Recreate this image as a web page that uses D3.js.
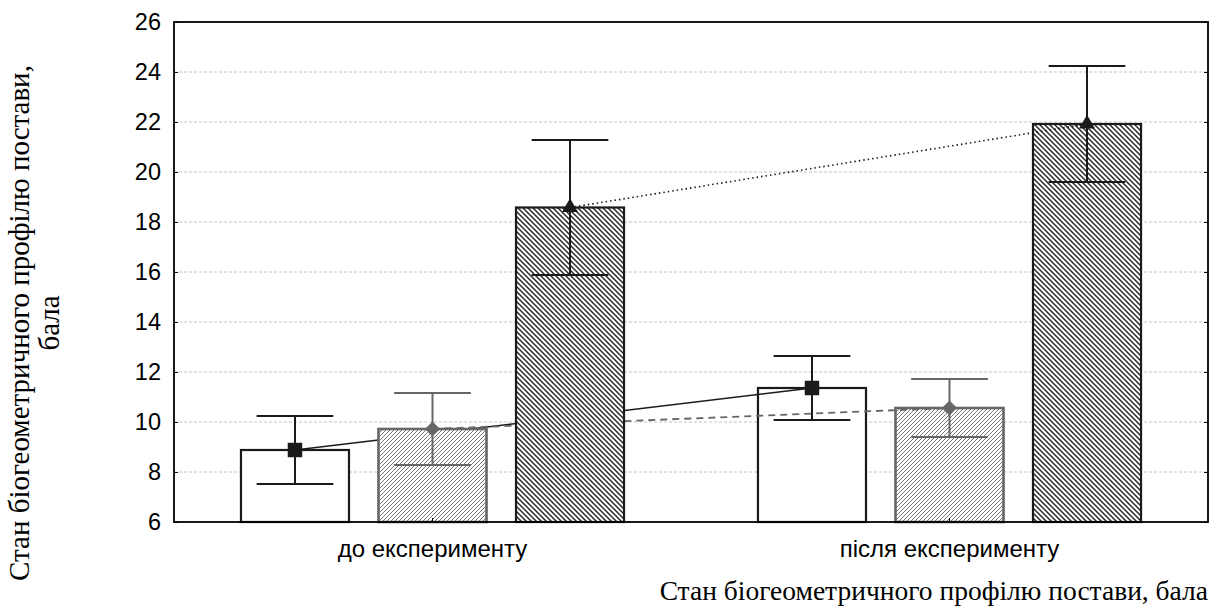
<!DOCTYPE html>
<html>
<head>
<meta charset="utf-8">
<script src="https://cdn.jsdelivr.net/npm/d3@7"></script>
<style>
  body { margin: 0; background: #fff; }
  svg { display: block; }
</style>
</head>
<body>
<div id="chart"></div>
<script>
  // groups on the x axis
  var groups = ["до експерименту", "після експерименту"];
  var seriesNames = ["s1", "s2", "s3"];

  // means per series (one value per group)
  var means1 = [8.88, 11.36];
  var means2 = [9.72, 10.56];
  var means3 = [18.58, 21.92];

  // half-width of the error bars
  var errs1 = [1.36, 1.28];
  var errs2 = [1.44, 1.16];
  var errs3 = [2.70, 2.32];

  var yTicks = [6, 8, 10, 12, 14, 16, 18, 20, 22, 24, 26];

  var width = 1216, height = 607;
  var margin = {top: 22, right: 8, bottom: 85, left: 174};

  var svg = d3.select("#chart").append("svg")
    .attr("width", width)
    .attr("height", height);

  var defs = svg.append("defs");

  // "////" grey hatch
  defs.append("pattern")
    .attr("id", "hatch2")
    .attr("patternUnits", "userSpaceOnUse")
    .attr("width", 4).attr("height", 4)
    .call(function(p){
      p.append("rect").attr("width", 4).attr("height", 4).attr("fill", "#fff");
      p.append("path")
        .attr("d", "M-1,1 l2,-2 M0,4 l4,-4 M3,5 l2,-2")
        .attr("stroke", "#777").attr("stroke-width", 1);
    });

  // "\\\\" black hatch
  defs.append("pattern")
    .attr("id", "hatch3")
    .attr("patternUnits", "userSpaceOnUse")
    .attr("width", 5).attr("height", 5)
    .call(function(p){
      p.append("rect").attr("width", 5).attr("height", 5).attr("fill", "#fff");
      p.append("path")
        .attr("d", "M-1,4 l2,2 M0,0 l5,5 M4,-1 l2,2")
        .attr("stroke", "#2a2a2a").attr("stroke-width", 1.5);
    });

  var x0 = d3.scaleBand()
    .domain(groups)
    .range([margin.left, width - margin.right]);

  var x1 = d3.scaleBand()
    .domain(seriesNames)
    .range([0, x0.bandwidth()])
    .paddingInner(0.2145)
    .paddingOuter(0.487);

  var y = d3.scaleLinear()
    .domain([6, 26])
    .range([height - margin.bottom, margin.top]);

  var x0px = margin.left, x1px = width - margin.right;
  var y0px = y(6), y1px = y(26);

  // grid lines
  svg.append("g")
    .selectAll("line")
    .data(yTicks.slice(1, -1))
    .enter().append("line")
      .attr("x1", x0px).attr("x2", x1px)
      .attr("y1", function(d){ return y(d); })
      .attr("y2", function(d){ return y(d); })
      .attr("stroke", "#c4c4c4")
      .attr("stroke-width", 1)
      .attr("stroke-dasharray", "3,2");

  var series = [
    {key: "s1", means: means1, errs: errs1, fill: "#fff", stroke: "#1a1a1a",
     sw: 2.2, line: "none", lineColor: "#1a1a1a", lineW: 1.6, marker: "square"},
    {key: "s2", means: means2, errs: errs2, fill: "url(#hatch2)", stroke: "#666",
     sw: 2.6, line: "7,5", lineColor: "#666", lineW: 1.8, marker: "diamond"},
    {key: "s3", means: means3, errs: errs3, fill: "url(#hatch3)", stroke: "#1a1a1a",
     sw: 2.2, line: "1.5,3", lineColor: "#1a1a1a", lineW: 1.6, marker: "triangle"}
  ];

  var symbols = {
    square: d3.symbol().type(d3.symbolSquare).size(210),
    diamond: d3.symbol().type(d3.symbolSquare).size(115),
    triangle: d3.symbol().type(d3.symbolTriangle).size(110)
  };

  function cx(s, i){ return x0(groups[i]) + x1(s.key) + x1.bandwidth() / 2; }

  // each series: bars, error bars, connecting line, markers
  series.forEach(function(s){
    var g = svg.append("g");
    var idx = groups.map(function(d, i){ return i; });

    g.selectAll("rect")
      .data(idx)
      .enter().append("rect")
        .attr("x", function(i){ return x0(groups[i]) + x1(s.key); })
        .attr("y", function(i){ return y(s.means[i]); })
        .attr("width", x1.bandwidth())
        .attr("height", function(i){ return y(6) - y(s.means[i]); })
        .attr("fill", s.fill)
        .attr("stroke", s.stroke)
        .attr("stroke-width", s.sw);

    var capW = x1.bandwidth() * 0.71;
    var eb = g.selectAll(".err")
      .data(idx)
      .enter().append("g")
        .attr("stroke", s.stroke)
        .attr("stroke-width", 2);
    eb.append("line")
      .attr("x1", function(i){ return cx(s, i); })
      .attr("x2", function(i){ return cx(s, i); })
      .attr("y1", function(i){ return y(s.means[i] + s.errs[i]); })
      .attr("y2", function(i){ return y(s.means[i] - s.errs[i]); });
    eb.append("line")
      .attr("x1", function(i){ return cx(s, i) - capW / 2; })
      .attr("x2", function(i){ return cx(s, i) + capW / 2; })
      .attr("y1", function(i){ return y(s.means[i] + s.errs[i]); })
      .attr("y2", function(i){ return y(s.means[i] + s.errs[i]); });
    eb.append("line")
      .attr("x1", function(i){ return cx(s, i) - capW / 2; })
      .attr("x2", function(i){ return cx(s, i) + capW / 2; })
      .attr("y1", function(i){ return y(s.means[i] - s.errs[i]); })
      .attr("y2", function(i){ return y(s.means[i] - s.errs[i]); });

    var line = d3.line()
      .x(function(i){ return cx(s, i); })
      .y(function(i){ return y(s.means[i]); });

    g.append("path")
      .attr("d", line(idx))
      .attr("fill", "none")
      .attr("stroke", s.lineColor)
      .attr("stroke-width", s.lineW)
      .attr("stroke-dasharray", s.line === "none" ? null : s.line);

    g.selectAll(".mk")
      .data(idx)
      .enter().append("path")
        .attr("d", symbols[s.marker])
        .attr("transform", function(i){
          var rot = s.marker === "diamond" ? " rotate(45)" : "";
          return "translate(" + cx(s, i) + "," + y(s.means[i]) + ")" + rot;
        })
        .attr("fill", s.lineColor);
  });

  // frame
  svg.append("rect")
    .attr("x", x0px).attr("y", y1px)
    .attr("width", x1px - x0px).attr("height", y0px - y1px)
    .attr("fill", "none")
    .attr("stroke", "#000")
    .attr("stroke-width", 1.8);

  // left axis, ticks inward
  var yAxisL = svg.append("g")
    .attr("transform", "translate(" + x0px + ",0)")
    .call(d3.axisRight(y).tickValues(yTicks).tickSize(4).tickFormat(""));
  yAxisL.select(".domain").remove();

  var yAxisR = svg.append("g")
    .attr("transform", "translate(" + x1px + ",0)")
    .call(d3.axisLeft(y).tickValues(yTicks).tickSize(4).tickFormat(""));
  yAxisR.select(".domain").remove();

  // tick labels on the left
  svg.append("g")
    .selectAll("text")
    .data(yTicks)
    .enter().append("text")
      .attr("x", x0px - 13)
      .attr("y", function(d){ return y(d); })
      .attr("dy", "0.36em")
      .attr("text-anchor", "end")
      .attr("font-family", "Liberation Sans, Arial, sans-serif")
      .attr("font-size", 23.5)
      .attr("fill", "#000")
      .text(function(d){ return d; });

  // bottom axis: inward ticks at group centers and labels
  var xAxis = svg.append("g")
    .attr("transform", "translate(0," + y0px + ")")
    .call(d3.axisTop(x0).tickSize(4).tickFormat(""));
  xAxis.select(".domain").remove();

  svg.append("g")
    .selectAll("text")
    .data(groups)
    .enter().append("text")
      .attr("x", function(d){ return x0(d) + x0.bandwidth() / 2; })
      .attr("y", y0px + 35)
      .attr("text-anchor", "middle")
      .attr("font-family", "Liberation Sans, Arial, sans-serif")
      .attr("font-size", 24)
      .attr("fill", "#000")
      .text(function(d){ return d; });

  // axis titles
  svg.append("text")
    .attr("x", x1px)
    .attr("y", 600)
    .attr("text-anchor", "end")
    .attr("font-family", "Liberation Serif, Times New Roman, serif")
    .attr("font-size", 27.5)
    .attr("fill", "#000")
    .text("Стан біогеометричного профілю постави, бала");

  var yTitle = svg.append("text")
    .attr("transform", "translate(29,323) rotate(-90)")
    .attr("text-anchor", "middle")
    .attr("font-family", "Liberation Serif, Times New Roman, serif")
    .attr("font-size", 29)
    .attr("fill", "#000");
  yTitle.append("tspan").attr("x", 0).attr("dy", 0)
    .text("Стан біогеометричного профілю постави,");
  yTitle.append("tspan").attr("x", 0).attr("dy", 30)
    .text("бала");
</script>
</body>
</html>
